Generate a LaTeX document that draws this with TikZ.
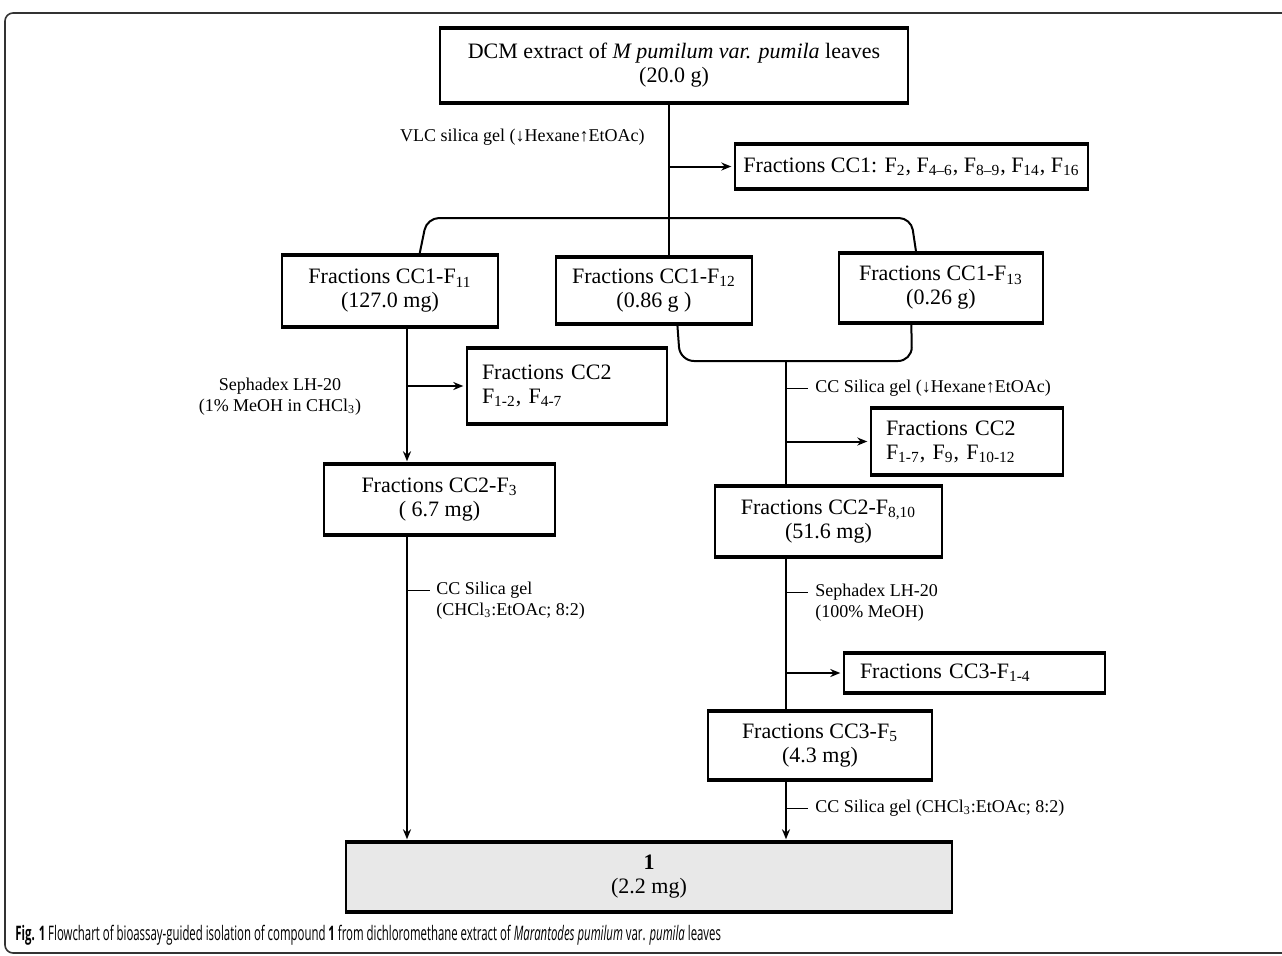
\documentclass[tikz,border=0pt]{standalone}
\usepackage{fontspec}
\setmainfont{Liberation Serif}
\newfontfamily\capfont[FakeStretch=0.57]{Open Sans}
\usetikzlibrary{arrows.meta,calc}

\tikzset{
  fbox/.style={draw, line width=0.7pt, fill=white, inner sep=0pt, align=center,
    font=\fontsize{11}{12}\selectfont},
  fboxl/.style={fbox, align=left},
  note/.style={font=\fontsize{9}{10.5}\selectfont, inner sep=0pt, align=left},
  flow/.style={line width=1pt},
  tick/.style={line width=0.5pt},
  arr/.style={flow, -{Stealth[length=5pt,width=4pt]}, shorten >=1.5pt},
}

\begin{document}
\begin{tikzpicture}[x=0.5pt,y=-0.5pt]
  \useasboundingbox (0,0) rectangle (1282,955);
  % cadru
  \draw[line width=0.8pt, black!80, rounded corners=4pt] (5,13) rectangle (1300,953);

  % casete
  \node[fbox, minimum width=234pt, minimum height=36.5pt] (dcm) at (674,65.5)
    {DCM extract of \textit{M pumilum var. pumila} leaves\\(20.0 g)};
  \node[fbox, minimum width=176.5pt, minimum height=21.5pt] (cc1) at (911.5,166.5)
    {Fractions CC1: F\textsubscript{2}, F\textsubscript{4–6}, F\textsubscript{8–9}, F\textsubscript{14}, F\textsubscript{16}};
  \node[fbox, minimum width=108pt, minimum height=35pt] (f11) at (390,291)
    {Fractions CC1-F\textsubscript{11}\\(127.0 mg)};
  \node[fbox, minimum width=98pt, minimum height=32.5pt] (f12) at (654,290.5)
    {Fractions CC1-F\textsubscript{12}\\(0.86 g )};
  \node[fbox, minimum width=102pt, minimum height=34pt] (f13) at (941,288)
    {Fractions CC1-F\textsubscript{13}\\(0.26 g)};
  \node[fboxl, minimum width=100pt, minimum height=37pt, text width=85pt] (cc2a) at (567,386)
    {Fractions CC2\\F\textsubscript{1-2}, F\textsubscript{4-7}};
  \node[fboxl, minimum width=96pt, minimum height=32.5pt, text width=81pt] (cc2b) at (967,441.5)
    {Fractions CC2\\F\textsubscript{1-7}, F\textsubscript{9}, F\textsubscript{10-12}};
  \node[fbox, minimum width=115.5pt, minimum height=34.5pt] (f3) at (439.5,499.5)
    {Fractions CC2-F\textsubscript{3}\\( 6.7 mg)};
  \node[fbox, minimum width=113.5pt, minimum height=34.5pt] (f810) at (828.5,521.5)
    {Fractions CC2-F\textsubscript{8,10}\\(51.6 mg)};
  \node[fboxl, minimum width=130.5pt, minimum height=19pt, text width=114.5pt] (cc3a) at (974.5,673)
    {Fractions CC3-F\textsubscript{1-4}};
  \node[fbox, minimum width=112pt, minimum height=33.5pt] (f5) at (820,745.5)
    {Fractions CC3-F\textsubscript{5}\\(4.3 mg)};
  \node[fbox, fill=gray!18, minimum width=303pt, minimum height=34pt] (one) at (649,877)
    {\textbf{1}\\(2.2 mg)};
  % margini groase sus si jos
  \foreach \n in {dcm,cc1,f11,f12,f13,cc2a,cc2b,f3,f810,cc3a,f5,one}
    \draw[line width=2pt] (\n.north west) -- (\n.north east) (\n.south west) -- (\n.south east);

  % trunchiuri
  \coordinate (trunk) at (669,218);
  \coordinate (trunkL) at (407,300);
  \coordinate (trunkR) at (786,361);

  % extractul DCM
  \draw[flow] (dcm.south -| trunk) -- (f12.north -| trunk);
  \draw[arr] (trunk |- cc1) -- (cc1.west);
  \node[note, anchor=east] (vlc) at (645,137) {VLC silica gel (↓Hexane↑EtOAc)};
  \draw[flow, rounded corners=6pt] ($(f11.north west)+(138,0)$) -- (427,218)
    -- (911,218) -- ($(f13.north west)+(78,0)$);

  % ramura stanga
  \draw[arr] (f11.south -| trunkL) -- (f3.north -| trunkL);
  \draw[arr] (trunkL |- cc2a.west) -- (cc2a.west);
  \node[note, align=center] (seph1) at (280,396.5) {Sephadex LH-20\\(1\% MeOH in CHCl\textsubscript{3})};
  \draw[arr] (f3.south -| trunkL) -- (one.north -| trunkL);
  \node[note, anchor=west] (silica2) at (436,600.5) {CC Silica gel\\(CHCl\textsubscript{3}:EtOAc; 8:2)};
  \draw[tick] ($(trunkL |- silica2.west)+(0,-10)$) -- ++(23,0);

  % ramura dreapta
  \draw[flow, rounded corners=7pt] ($(f12.south west)+(122,0)$) -- (680,361)
    -- (912,361) -- ($(f13.south west)+(73,0)$);
  \draw[flow] (trunkR) -- (f810.north -| trunkR);
  \node[note, anchor=west] (silica1) at (815,388) {CC Silica gel (↓Hexane↑EtOAc)};
  \draw[tick] (trunkR |- silica1.west) -- ++(22,0);
  \draw[arr] (trunkR |- cc2b.west) -- (cc2b.west);
  \draw[flow] (f810.south -| trunkR) -- (f5.north -| trunkR);
  \node[note, anchor=west] (seph2) at (815,602.5) {Sephadex LH-20\\(100\% MeOH)};
  \draw[tick] ($(trunkR |- seph2.west)+(0,-10)$) -- ++(22,0);
  \draw[arr] (trunkR |- cc3a.west) -- (cc3a.west);
  \draw[arr] (f5.south -| trunkR) -- (one.north -| trunkR);
  \node[note, anchor=west] (silica3) at (815,808) {CC Silica gel (CHCl\textsubscript{3}:EtOAc; 8:2)};
  \draw[tick] (trunkR |- silica3.west) -- ++(22,0);

  % legenda
  \node[anchor=west, inner sep=0pt, font=\capfont\fontsize{10}{12}\selectfont] (cap) at (15,935)
    {\textbf{Fig. 1} Flowchart of bioassay-guided isolation of compound \textbf{1} from dichloromethane extract of \textit{Marantodes pumilum} var. \textit{pumila} leaves};
\end{tikzpicture}
\end{document}
